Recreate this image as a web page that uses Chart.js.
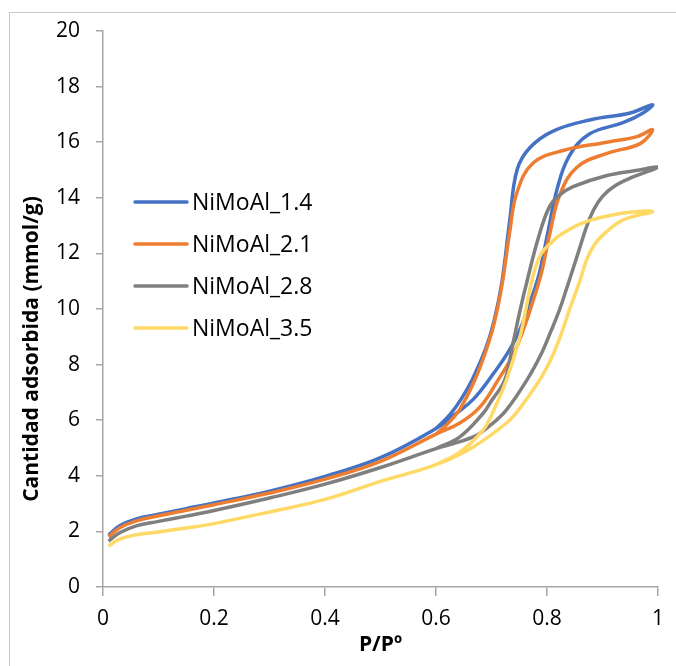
<!DOCTYPE html>
<html>
<head>
<meta charset="utf-8">
<script src="https://cdn.jsdelivr.net/npm/chart.js@4"></script>
<style>
  html, body { margin: 0; padding: 0; background: #fff; }
  #wrap { position: relative; width: 676px; height: 666px; overflow: hidden; }
  #frame { position: absolute; left: 9px; top: 12px; width: 800px; height: 800px;
           border-left: 1px solid #c9c9c9; border-top: 1px solid #c9c9c9; }
  canvas { position: absolute; left: 0; top: 0; }
</style>
</head>
<body>
<div id="wrap">
  <div id="frame"></div>
  <canvas id="chart" width="676" height="666"></canvas>
</div>
<script>
// series names and colours
const seriesNames = ['NiMoAl_1.4', 'NiMoAl_2.1', 'NiMoAl_2.8', 'NiMoAl_3.5'];
const seriesColors = ['#4472C4', '#ED7D31', '#7F7F7F', '#FFD966'];

const xTickLabels = ['0', '0.2', '0.4', '0.6', '0.8', '1'];

// NiMoAl_1.4 - adsorption branch, then desorption branch (P/Po, mmol/g)
const p14Ads = [0.01, 0.03, 0.06, 0.1, 0.15, 0.2, 0.3, 0.4, 0.5, 0.6, 0.637, 0.667, 0.697, 0.73, 0.75, 0.765, 0.785, 0.8, 0.818, 0.84, 0.877, 0.937, 0.973, 0.99];
const q14Ads = [1.87, 2.2, 2.45, 2.62, 2.82, 3.02, 3.45, 3.98, 4.65, 5.7, 6.25, 6.75, 7.5, 8.45, 9.2, 10.0, 11.2, 12.6, 14.3, 15.5, 16.3, 16.7, 17.05, 17.35];
const p14Des = [0.95, 0.877, 0.811, 0.769, 0.746, 0.733, 0.719, 0.705, 0.69, 0.665, 0.645, 0.625, 0.6];
const q14Des = [17.05, 16.8, 16.4, 15.8, 15.0, 13.2, 11.0, 9.6, 8.6, 7.45, 6.75, 6.2, 5.7];

// NiMoAl_2.1
const p21Ads = [0.01, 0.03, 0.06, 0.1, 0.15, 0.2, 0.3, 0.4, 0.5, 0.6, 0.643, 0.679, 0.712, 0.74, 0.76, 0.775, 0.79, 0.805, 0.823, 0.854, 0.908, 0.968, 0.99];
const q21Ads = [1.8, 2.13, 2.38, 2.56, 2.76, 2.96, 3.38, 3.88, 4.52, 5.5, 5.9, 6.47, 7.45, 8.4, 9.4, 10.3, 11.3, 12.7, 14.1, 15.1, 15.6, 15.95, 16.45];
const p21Des = [0.962, 0.908, 0.829, 0.775, 0.746, 0.733, 0.72, 0.705, 0.69, 0.67, 0.643, 0.62, 0.6];
const q21Des = [16.2, 16.0, 15.7, 15.25, 14.2, 12.8, 11.0, 9.5, 8.5, 7.45, 6.4, 5.85, 5.5];

// NiMoAl_2.8
const p28Ads = [0.01, 0.03, 0.06, 0.1, 0.15, 0.2, 0.3, 0.4, 0.5, 0.6, 0.667, 0.7, 0.727, 0.764, 0.79, 0.805, 0.823, 0.838, 0.859, 0.872, 0.885, 0.9, 0.92, 0.955, 1.0];
const q28Ads = [1.65, 1.95, 2.2, 2.36, 2.55, 2.75, 3.2, 3.7, 4.3, 4.98, 5.4, 5.85, 6.37, 7.45, 8.4, 9.1, 10.0, 10.9, 12.2, 13.0, 13.6, 14.05, 14.4, 14.75, 15.1];
const p28Des = [0.96, 0.908, 0.847, 0.823, 0.805, 0.785, 0.764, 0.752, 0.738, 0.724, 0.7, 0.685, 0.643, 0.6];
const q28Des = [14.98, 14.8, 14.4, 14.1, 13.7, 12.6, 11.0, 10.0, 8.7, 7.45, 6.7, 6.25, 5.4, 4.98];

// NiMoAl_3.5
const p35Ads = [0.01, 0.03, 0.06, 0.1, 0.15, 0.2, 0.3, 0.4, 0.5, 0.6, 0.667, 0.727, 0.75, 0.787, 0.805, 0.823, 0.84, 0.859, 0.872, 0.885, 0.9, 0.937, 0.99];
const q35Ads = [1.47, 1.72, 1.88, 1.98, 2.12, 2.28, 2.7, 3.15, 3.8, 4.4, 5.04, 5.9, 6.4, 7.45, 8.1, 8.95, 9.95, 11.0, 11.8, 12.3, 12.65, 13.2, 13.5];
const p35Des = [0.937, 0.865, 0.823, 0.811, 0.79, 0.775, 0.76, 0.75, 0.727, 0.705, 0.685, 0.643, 0.6];
const q35Des = [13.45, 13.1, 12.65, 12.45, 12.0, 11.2, 9.8, 8.9, 7.45, 6.4, 5.65, 4.85, 4.4];

const branches = [
  [p14Ads, q14Ads, p14Des, q14Des],
  [p21Ads, q21Ads, p21Des, q21Des],
  [p28Ads, q28Ads, p28Des, q28Des],
  [p35Ads, q35Ads, p35Des, q35Des],
];

// join adsorption + desorption into one loop per sample
const toPoints = (px, py) => px.map((x, i) => ({ x, y: py[i] }));

const datasets = branches.map(([pa, qa, pd, qd], i) => ({
  label: seriesNames[i],
  data: toPoints(pa, qa).concat(toPoints(pd, qd)),
  borderColor: seriesColors[i],
  backgroundColor: seriesColors[i],
  borderWidth: 3.5,
  showLine: true,
  pointRadius: 0,
  tension: 0.4,
  fill: false,
  order: seriesNames.length - i,
}));

const axisColor = '#A6A6A6';
const fontFamily = '"Open Sans", "Noto Sans", sans-serif';

// legend drawn inside the plot, upper-left
const insideLegend = {
  id: 'insideLegend',
  afterDatasetsDraw(chart) {
    const { ctx, chartArea } = chart;
    const x0 = chartArea.left + 32;
    const y0 = chartArea.top + 171;
    ctx.save();
    ctx.font = '23px ' + fontFamily;
    ctx.textBaseline = 'middle';
    ctx.fillStyle = '#000';
    chart.data.datasets.forEach((ds, i) => {
      const y = y0 + i * 42;
      ctx.strokeStyle = ds.borderColor;
      ctx.lineWidth = 3.5;
      ctx.lineCap = 'round';
      ctx.beginPath();
      ctx.moveTo(x0, y);
      ctx.lineTo(x0 + 52, y);
      ctx.stroke();
      ctx.fillText(ds.label, x0 + 57, y + 1);
    });
    ctx.restore();
  },
};

// rotated y-axis title (Excel puts it a bit below centre)
const yTitle = {
  id: 'yTitle',
  afterDraw(chart) {
    const { ctx } = chart;
    ctx.save();
    ctx.translate(32, 349);
    ctx.rotate(-Math.PI / 2);
    ctx.font = 'bold 21px ' + fontFamily;
    ctx.textAlign = 'center';
    ctx.textBaseline = 'middle';
    ctx.fillStyle = '#000';
    ctx.fillText('Cantidad adsorbida (mmol/g)', 0, 0);
    ctx.restore();
  },
};

new Chart(document.getElementById('chart'), {
  type: 'scatter',
  data: { datasets },
  options: {
    responsive: false,
    animation: false,
    layout: { padding: { top: 31, right: 18, left: 0, bottom: 0 } },
    plugins: {
      legend: { display: false },
      tooltip: { enabled: false },
    },
    scales: {
      x: {
        type: 'linear',
        min: 0,
        max: 1,
        afterFit: (scale) => { scale.height = 79; },
        ticks: {
          stepSize: 0.2,
          padding: 10,
          color: '#000',
          font: { family: fontFamily, size: 21 },
          callback: (v, i) => xTickLabels[i],
        },
        grid: { drawOnChartArea: false, tickLength: 9, color: axisColor, lineWidth: 1.5 },
        border: { color: axisColor, width: 1.5 },
        title: {
          display: true,
          text: 'P/Pº',
          color: '#000',
          font: { family: fontFamily, size: 21, weight: 'bold' },
          padding: { top: 0, bottom: 8 },
        },
      },
      y: {
        min: 0,
        max: 20,
        afterFit: (scale) => { scale.width = 103; },
        ticks: {
          stepSize: 2,
          padding: 16,
          color: '#000',
          font: { family: fontFamily, size: 21 },
        },
        grid: { drawOnChartArea: false, tickLength: 7, color: axisColor, lineWidth: 1.5 },
        border: { color: axisColor, width: 1.5 },
      },
    },
  },
  plugins: [insideLegend, yTitle],
});
</script>
</body>
</html>
